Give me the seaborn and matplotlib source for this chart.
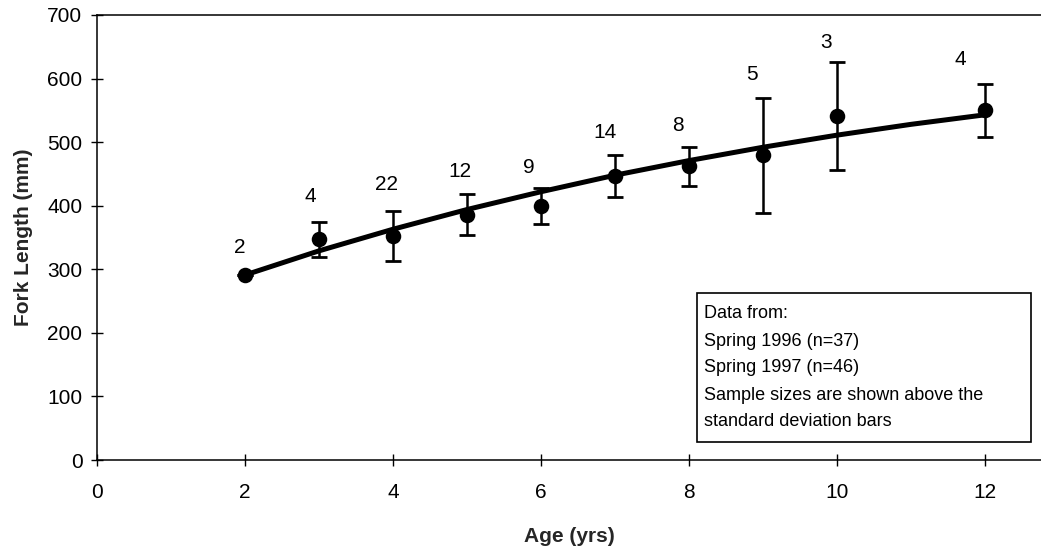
import matplotlib
matplotlib.use("Agg")
import matplotlib.pyplot as plt
from matplotlib.patches import Rectangle
import seaborn as sns
import pandas as pd

# Mean fork length at age with standard deviations and sample sizes
ages = [2, 3, 4, 5, 6, 7, 8, 9, 10, 12]
mean_length = [291, 347, 352, 386, 400, 446, 462, 479, 541, 550]
sd_length = [0, 27, 39, 32, 28, 33, 31, 90, 85, 42]
sample_n = [2, 4, 22, 12, 9, 14, 8, 5, 3, 4]

# Fitted growth curve evaluated at each year of age
fit_age = [2, 3, 4, 5, 6, 7, 8, 9, 10, 11, 12]
fit_length = [291, 329, 363, 394, 422, 448, 471, 492, 511, 528, 543]

x_ticks = [0, 2, 4, 6, 8, 10, 12]
y_ticks = [0, 100, 200, 300, 400, 500, 600, 700]

note_lines = [
    "Data from:",
    "Spring 1996 (n=37)",
    "Spring 1997 (n=46)",
    "Sample sizes are shown above the",
    "standard deviation bars",
]

# Small nudges (points) for the sample-size labels
label_dx = [-3.6, -6.5, -5, -5, -8.6, -7.2, -8, -8, -8, -18]
label_dy = [20, 18.7, 19.4, 16.6, 15, 16.6, 15, 17.3, 14.4, 17.3]

sns.set_theme(style="white")
plt.rcParams["font.family"] = ["Liberation Sans", "DejaVu Sans"]

obs = pd.DataFrame({"age": ages, "length": mean_length, "sd": sd_length, "n": sample_n})
fit = pd.DataFrame({"age": fit_age, "length": fit_length})

fig = plt.figure(figsize=(10.41, 5.50), dpi=100)
ax = fig.add_axes([97 / 1041, 90 / 550, 944 / 1041, 445 / 550])

sns.lineplot(data=fit, x="age", y="length", ax=ax, color="black", linewidth=3.6,
             solid_capstyle="round", zorder=3)
ax.errorbar(obs["age"], obs["length"], yerr=obs["sd"], fmt="none", ecolor="black",
            elinewidth=1.8, capsize=6, capthick=2, zorder=2)
sns.scatterplot(data=obs, x="age", y="length", ax=ax, color="black", s=125,
                edgecolor="black", linewidth=0, zorder=4)

for a, m, s, n, dx, dy in zip(ages, mean_length, sd_length, sample_n, label_dx, label_dy):
    ax.annotate(str(n), xy=(a, m + s), xytext=(dx, dy), textcoords="offset points",
                ha="center", va="center", fontsize=15, color="black")

ax.set_xlim(0, 944 / 74)
ax.set_ylim(0, 700)
ax.set_xticks(x_ticks)
ax.set_yticks(y_ticks)
ax.tick_params(axis="both", direction="inout", length=9, width=1, colors="black",
               labelsize=15, bottom=True, left=True, top=False, right=False)
ax.tick_params(axis="x", pad=12)
ax.tick_params(axis="y", pad=6)

ax.set_xlabel("Age (yrs)", fontsize=15, fontweight="bold", labelpad=18)
ax.set_ylabel("Fork Length (mm)", fontsize=15, fontweight="bold", labelpad=10)

for side in ["left", "bottom", "top"]:
    ax.spines[side].set_color("black")
    ax.spines[side].set_linewidth(1.1)
ax.spines["right"].set_visible(False)

# Boxed note in the lower right
box = Rectangle((600 / 944, 18 / 445), 334 / 944, 149 / 445, transform=ax.transAxes,
                facecolor="white", edgecolor="black", linewidth=1.2, zorder=5)
ax.add_patch(box)
for i, line in enumerate(note_lines):
    ax.text(607 / 944, (460 - 314 - 27 * i) / 445, line, transform=ax.transAxes,
            ha="left", va="center", fontsize=13, color="black", zorder=6)

fig.savefig("out.png", dpi=100)
